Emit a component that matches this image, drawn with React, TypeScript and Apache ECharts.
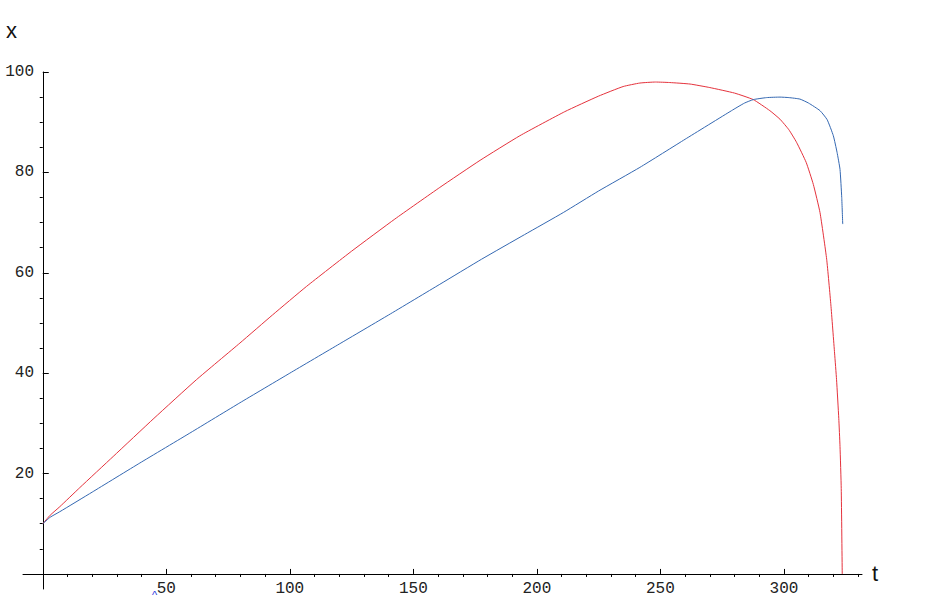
import React, { useEffect, useRef } from "react";
import * as echarts from "echarts";

// Red curve (t, x)
const redT = [0, 3, 6.9, 15, 28.5, 45, 62.2, 79.8, 93, 106.8, 125, 142.5, 160.7, 177, 193.1, 211.3, 225, 234.9, 241.7, 248, 253.8, 262, 270, 280, 287.6, 294.3, 298.4, 302, 305.1, 309, 311.9, 314.6, 317.3, 319, 320.5, 321.3, 322.2, 322.7, 323.2, 323.6];
const redX = [10, 11.7, 13.4, 17.2, 23.4, 31.0, 38.7, 46.0, 51.6, 57.3, 64.3, 70.7, 77.0, 82.4, 87.3, 92.1, 95.2, 97.1, 97.8, 98.0, 97.9, 97.6, 96.9, 95.8, 94.5, 92.3, 90.6, 88.5, 86.0, 82.0, 77.6, 72.0, 62.7, 53.6, 44.0, 38.7, 31.0, 25.4, 17.0, 0];

// Blue curve (t, x)
const blueT = [0, 3, 6.9, 20, 39.3, 60, 79.8, 100, 120, 140, 160.7, 177.6, 195, 210.7, 225, 241.7, 260, 278.8, 284, 287.6, 293, 298.4, 302, 306.5, 310, 314.6, 317.5, 320, 321.5, 322.7, 323.4, 323.8];
const blueX = [10, 11.3, 12.4, 16.3, 22.1, 28.2, 34.1, 40.0, 45.8, 51.6, 57.7, 62.7, 67.6, 72.0, 76.3, 81.0, 86.6, 92.3, 93.8, 94.5, 94.9, 95.0, 94.9, 94.6, 93.8, 92.3, 90.5, 87.3, 84.0, 80.6, 75.0, 69.7];

// Tick values
const xMajorTicks = [50, 100, 150, 200, 250, 300];
const xMinorTicks = [10, 20, 30, 40, 60, 70, 80, 90, 110, 120, 130, 140, 160, 170, 180, 190, 210, 220, 230, 240, 260, 270, 280, 290, 310, 320, 330];
const yMajorTicks = [20, 40, 60, 80, 100];
const yMinorTicks = [5, 10, 15, 25, 30, 35, 45, 50, 55, 65, 70, 75, 85, 90, 95];

const X_MIN = -8;
const X_MAX = 331.6;
const Y_MIN = -3;
const Y_MAX = 100;

const monoFont = "Liberation Mono";

export default function App() {
  const ref = useRef<HTMLDivElement>(null);

  useEffect(() => {
    if (!ref.current) return;
    const chart = echarts.init(ref.current, undefined, { renderer: "svg" });
    const redData = redT.map((t, i) => [t, redX[i]]);
    const blueData = blueT.map((t, i) => [t, blueX[i]]);

    const axisLineStyle = { color: "#000", width: 1 };

    chart.setOption({
      animation: false,
      backgroundColor: "#ffffff",
      grid: { left: 23, right: 63, top: 72, bottom: 11, containLabel: false, outerBoundsMode: "none" },
      xAxis: [
        {
          type: "value",
          min: X_MIN,
          max: X_MAX,
          axisLine: { show: true, onZero: true, onZeroAxisIndex: 0, lineStyle: axisLineStyle },
          axisTick: { show: true, inside: true, length: 5, customValues: xMajorTicks, lineStyle: axisLineStyle },
          axisLabel: {
            show: true,
            customValues: xMajorTicks,
            margin: -8,
            fontFamily: monoFont,
            fontSize: 16,
            color: "#222",
          },
          splitLine: { show: false },
          name: "t",
          nameLocation: "end",
          nameGap: 10,
          nameTextStyle: { fontFamily: "Liberation Sans", fontSize: 22, color: "#111" },
        },
        {
          type: "value",
          min: X_MIN,
          max: X_MAX,
          axisLine: { show: false, onZero: true, onZeroAxisIndex: 0 },
          axisTick: { show: true, inside: true, length: 3, customValues: xMinorTicks, lineStyle: axisLineStyle },
          axisLabel: { show: false },
          splitLine: { show: false },
        },
      ],
      yAxis: [
        {
          type: "value",
          min: Y_MIN,
          max: Y_MAX,
          axisLine: { show: true, onZero: true, onZeroAxisIndex: 0, lineStyle: axisLineStyle },
          axisTick: { show: true, inside: true, length: 6, customValues: yMajorTicks, lineStyle: axisLineStyle },
          axisLabel: {
            show: true,
            customValues: yMajorTicks,
            margin: -11,
            fontFamily: monoFont,
            fontSize: 16,
            color: "#222",
          },
          splitLine: { show: false },
        },
        {
          type: "value",
          min: Y_MIN,
          max: Y_MAX,
          axisLine: { show: false, onZero: true, onZeroAxisIndex: 0 },
          axisTick: { show: true, inside: true, length: 3, customValues: yMinorTicks, lineStyle: axisLineStyle },
          axisLabel: { show: false },
          splitLine: { show: false },
        },
      ],
      graphic: [
        {
          type: "text",
          left: 6,
          top: 19,
          style: { text: "x", fontFamily: "Liberation Sans", fontSize: 22, fill: "#111" },
        },
        {
          type: "text",
          left: 152,
          top: 589,
          style: { text: "^", fontFamily: "Liberation Sans", fontSize: 11, fill: "#2233dd" },
        },
      ],
      series: [
        {
          type: "line",
          name: "red",
          xAxisIndex: 0,
          yAxisIndex: 0,
          data: redData,
          showSymbol: false,
          smooth: 0.15,
          lineStyle: { color: "#e5323c", width: 1 },
          itemStyle: { color: "#e5323c" },
          clip: false,
        },
        {
          type: "line",
          name: "blue",
          xAxisIndex: 0,
          yAxisIndex: 0,
          data: blueData,
          showSymbol: false,
          smooth: 0.15,
          lineStyle: { color: "#3468b2", width: 1 },
          itemStyle: { color: "#3468b2" },
          clip: false,
        },
      ],
    });

    return () => {
      chart.dispose();
    };
  }, []);

  return (
    <div
      ref={ref}
      style={{ position: "absolute", left: 0, top: 0, width: 925, height: 600, background: "#fff" }}
    />
  );
}
